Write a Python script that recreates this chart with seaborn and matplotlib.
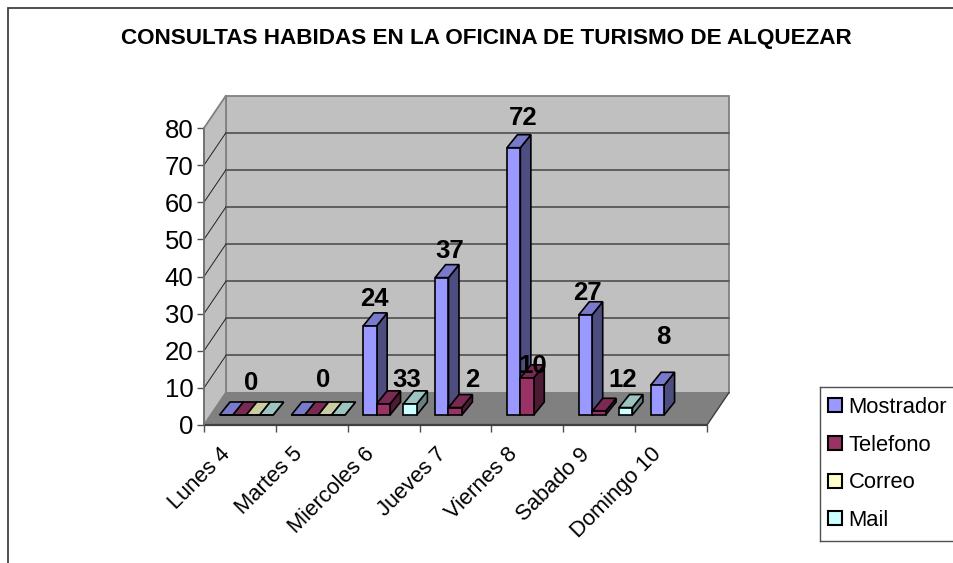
import numpy as np
import pandas as pd
import matplotlib
matplotlib.use("Agg")
import matplotlib.pyplot as plt
from matplotlib.patches import Polygon, Rectangle
from matplotlib.transforms import Affine2D
from matplotlib.lines import Line2D
import seaborn as sns

# ---- data ----
days = ["Lunes 4", "Martes 5", "Miercoles 6", "Jueves 7", "Viernes 8", "Sabado 9", "Domingo 10"]
mostrador = [0, 0, 24, 37, 72, 27, 8]
telefono = [0, 0, 3, 2, 10, 1, np.nan]
correo = [0, 0, np.nan, np.nan, np.nan, np.nan, np.nan]
mail = [0, 0, 3, np.nan, np.nan, 2, np.nan]
series_names = ["Mostrador", "Telefono", "Correo", "Mail"]
y_ticks = [0, 10, 20, 30, 40, 50, 60, 70, 80]
label_texts = ["0", "0", "24", "33", "37", "2", "72", "10", "27", "12", "8"]
title_text = "CONSULTAS HABIDAS EN LA OFICINA DE TURISMO DE ALQUEZAR"

# ---- placement of the free-standing value labels (category units, value units) ----
label_x = [0.154, 1.156, 1.866, 2.325, 2.923, 3.23, 3.94, 4.08, 4.84, 5.33, 5.89]
label_y = [11.3, 12.1, 33.9, 12.1, 46.9, 12.1, 82.7, 15.8, 35.6, 12.1, 23.7]

# ---- styles ----
W, H = 954, 563
front = ["#9999FF", "#993366", "#FFFFCC", "#CCFFFF"]
top = ["#7A7ACC", "#7A2952", "#CCCCA3", "#9CC4C0"]
side = ["#4D4D80", "#4D1A33", "#808066", "#668080"]
FONT = "Liberation Sans"

df = pd.DataFrame({"Mostrador": mostrador, "Telefono": telefono, "Correo": correo, "Mail": mail}, index=days)
long_df = df.rename_axis("dia").reset_index().melt(id_vars="dia", var_name="serie", value_name="consultas")

sns.set_theme(style="white")
plt.rcParams["font.family"] = [FONT, "DejaVu Sans"]
fig = plt.figure(figsize=(W / 100, H / 100), dpi=100, facecolor="white")


def rect(x0, y_top, x1, y_bot):
    return [x0 / W, 1 - y_bot / H, (x1 - x0) / W, (y_bot - y_top) / H]


# front plane axes: holds scales, ticks and the room
ax = fig.add_axes(rect(204, 128, 707, 425), facecolor="none", zorder=1)
ax.set_xlim(-0.5, 6.5)
ax.set_ylim(0, 80)
for s in ax.spines.values():
    s.set_visible(False)

back = ax.transData + Affine2D().translate(22, 32.5)
x0, x1, y0, y1 = -0.5, 6.5, 0, 80
wall_c, floor_c, frame_c, grid_c = "#C0C0C0", "#808080", "#808080", "#5F5F5F"

# back wall
ax.add_patch(Polygon([(x0, y0), (x1, y0), (x1, y1), (x0, y1)], closed=True, transform=back,
                     fc=wall_c, ec=frame_c, lw=1.3, zorder=1, clip_on=False))
# side wall: front edge in data, back edge translated
pts_front = ax.transData.transform([(x0, y0), (x0, y1)])
pts_back = back.transform([(x0, y1), (x0, y0)])
ax.add_patch(Polygon(np.vstack([pts_front, pts_back]), closed=True, transform=None,
                     fc=wall_c, ec=frame_c, lw=1.3, zorder=1, clip_on=False))
# floor
pts_floor = np.vstack([ax.transData.transform([(x0, y0), (x1, y0)]),
                       back.transform([(x1, y0), (x0, y0)])])
ax.add_patch(Polygon(pts_floor, closed=True, transform=None, fc=floor_c, ec=floor_c, lw=0.5,
                     zorder=2, clip_on=False))
# gridlines on back wall + diagonals on side wall
for v in y_ticks[1:-1]:
    ax.plot([x0, x1], [v, v], transform=back, color=grid_c, lw=1.4, zorder=1.5, clip_on=False)
    a = ax.transData.transform((x0, v))
    b = back.transform((x0, v))
    ax.add_line(Line2D([a[0], b[0]], [a[1], b[1]], transform=None, color="#222222", lw=0.7,
                       zorder=1.5, clip_on=False))
# floor edges
a, b = ax.transData.transform((x1, 0)), back.transform((x1, 0))
ax.add_line(Line2D([a[0], b[0]], [a[1], b[1]], transform=None, color="#404040", lw=1.0, zorder=3, clip_on=False))
ax.plot([x0, x1], [0, 0], color="#404040", lw=1.6, zorder=3, clip_on=False)
ax.plot([x0, x0], [0, 80], color="#707070", lw=1.2, zorder=3, clip_on=False)

# ticks
ax.set_yticks(y_ticks)
ax.set_yticklabels([str(v) for v in y_ticks], fontsize=18.5, color="black")
ax.set_xticks(np.arange(-0.5, 7, 1))
ax.set_xticklabels([""] * 8)
ax.tick_params(axis="both", length=5, width=1, color="#505050", pad=2.5, left=True, bottom=True)
for i, d in enumerate(days):
    ax.annotate(d, xy=(i, 0), xycoords="data", xytext=(-14.5, -13.5), textcoords="offset points",
                rotation=45, rotation_mode="anchor", ha="right", va="top", fontsize=15.8, color="black")

# bars axes: same scale, sitting partway into the floor
axb = fig.add_axes(rect(204 + 6.4, 128 - 10, 707 + 6.4, 425 - 10), facecolor="none", zorder=2)
sns.barplot(data=long_df, x="dia", y="consultas", hue="serie", order=days, hue_order=series_names,
            palette=front, width=0.746, gap=0, dodge=True, edgecolor="black", linewidth=1.2,
            legend=False, ax=axb, errorbar=None, saturation=1)
axb.set_xlim(-0.5, 6.5)
axb.set_ylim(0, 80)
axb.axis("off")

# extrude each bar
ddx, ddy = 10.5, 13
bars = []
for k, cont in enumerate(axb.containers):
    for rect_patch in cont.patches:
        if np.isfinite(rect_patch.get_height()):
            bars.append((rect_patch.get_x(), k, rect_patch))
bars.sort(key=lambda t: t[0])
for order, (_, k, p) in enumerate(bars):
    xa, ya = p.get_x(), p.get_y()
    (l, b_), (r, t_) = axb.transData.transform([(xa, ya), (xa + p.get_width(), ya + p.get_height())])
    z = 3 + order * 0.01
    p.set_zorder(z + 0.005)
    p.set_clip_on(False)
    axb.add_patch(Polygon([(r, b_), (r + ddx, b_ + ddy), (r + ddx, t_ + ddy), (r, t_)], closed=True, transform=None,
                          fc=side[k], ec="black", lw=1.2, zorder=z, clip_on=False))
    axb.add_patch(Polygon([(l, t_), (l + ddx, t_ + ddy), (r + ddx, t_ + ddy), (r, t_)], closed=True, transform=None,
                          fc=top[k], ec="black", lw=1.2, zorder=z, clip_on=False))

# value labels
for txt, lx, ly in zip(label_texts, label_x, label_y):
    axb.text(lx, ly, txt, transform=ax.transData, ha="center", va="center", fontsize=18.5,
             fontweight="bold", color="black", zorder=10, clip_on=False)

# outer chart frame
fig.add_artist(Rectangle((8 / W, -0.2), (W + 30) / W, 1.2 - 8 / H, transform=fig.transFigure,
                         fc="none", ec="#404040", lw=1.3, zorder=0))

# title
fig.text(486 / W, 1 - 38.5 / H, title_text, ha="center", va="center", fontsize=16.2, fontweight="bold", color="black")

# legend (built from the series so it has the square keys of the original)
leg = fig.add_axes(rect(820, 387, 960, 541), facecolor="white", zorder=3)
leg.set_xticks([]); leg.set_yticks([])
for s in leg.spines.values():
    s.set_color("#505050"); s.set_linewidth(1)
handles = [Rectangle((0, 0), 1, 1, fc=c, ec="black", lw=1.5) for c in front]
leg.legend(handles, series_names, loc="center left", frameon=False, fontsize=15.8, handlelength=0.62, handleheight=0.62,
           labelspacing=0.76, handletextpad=0.3, borderaxespad=0, borderpad=0, bbox_to_anchor=(0.06, 0.5),
           labelcolor="black")

fig.savefig("out.png", dpi=100)
